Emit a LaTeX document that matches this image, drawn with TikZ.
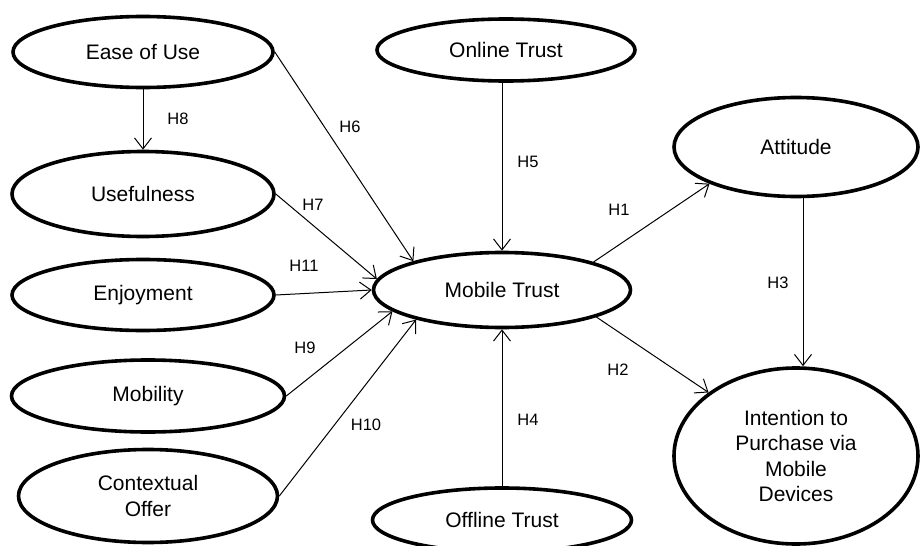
\documentclass[tikz,border=0pt]{standalone}
\usepackage{fontspec}
\setmainfont{Liberation Sans}
\usetikzlibrary{shapes.geometric,arrows.meta}

\begin{document}
\begin{tikzpicture}[x=1pt,y=-1pt,
    construct/.style={ellipse,draw,line width=3.6pt,inner sep=0pt,align=center,
                      font=\fontsize{21}{25.5}\selectfont},
    hyp/.style={font=\fontsize{16.5}{18}\selectfont,inner sep=0pt},
    hpath/.style={-{Straight Barb[length=11pt,width=17pt]},line width=1pt}]
  \clip (0,0) rectangle (922,546);
  \node[construct,minimum width=260pt,minimum height=71pt] (eou) at (143,52)  {Ease of Use};
  \node[construct,minimum width=262pt,minimum height=85pt] (use) at (143,194) {Usefulness};
  \node[construct,minimum width=262pt,minimum height=71pt] (enj) at (143,295) {Enjoyment};
  \node[construct,minimum width=273pt,minimum height=72pt] (mob) at (148,396) {Mobility};
  \node[construct,minimum width=259pt,minimum height=93pt] (ctx) at (148,496) {Contextual\\Offer};
  \node[construct,minimum width=258pt,minimum height=62pt] (ont) at (506,50)  {Online Trust};
  \node[construct,minimum width=257pt,minimum height=75pt] (mt)  at (502,290) {Mobile Trust};
  \node[construct,minimum width=259pt,minimum height=64pt] (oft) at (502,520) {Offline Trust};
  \node[construct,minimum width=244pt,minimum height=99pt] (att) at (796,147) {Attitude};
  \node[construct,minimum width=244pt,minimum height=176pt] (int) at (796,456)
        {Intention to\\Purchase via\\Mobile\\Devices};

  \draw[hpath] (eou) -- (use);
  \draw[hpath] (eou.east) -- (mt.162);
  \draw[hpath] (use.east) -- (mt.175);
  \draw[hpath] (enj.east) -- (mt.west);
  \draw[hpath] (mob.east) -- (mt.191);
  \draw[hpath] (ctx.east) -- (mt.199);
  \draw[hpath] (ont.south -| mt.north) -- (mt.north);
  \draw[hpath] (oft) -- (mt);
  \draw[hpath] (mt.17) -- (att.203);
  \draw[hpath] (mt.344) -- (int.144);
  \draw[hpath] ([xshift=7pt]att.south) -- ([xshift=7pt]int.north);

  \node[hyp] (h8)  at (178,119) {H8};
  \node[hyp] (h6)  at (350,127) {H6};
  \node[hyp] (h7)  at (313,205) {H7};
  \node[hyp] (h11) at (304,266) {H11};
  \node[hyp] (h9)  at (305,348) {H9};
  \node[hyp] (h10) at (366,425) {H10};
  \node[hyp] (h5)  at (528,162) {H5};
  \node[hyp] (h4)  at (528,420) {H4};
  \node[hyp] (h1)  at (619,210) {H1};
  \node[hyp] (h2)  at (618,370) {H2};
  \node[hyp] (h3)  at (778,283) {H3};
\end{tikzpicture}
\end{document}
